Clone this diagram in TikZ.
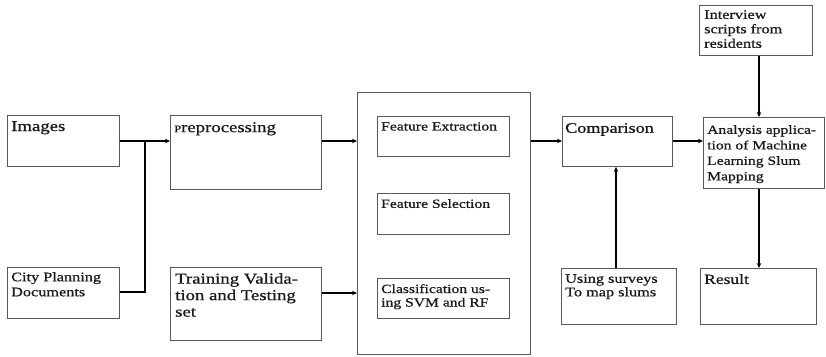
\documentclass[tikz,border=0pt]{standalone}
\usepackage{fontspec}
\setmainfont[FakeStretch=1.25,FakeBold=0.8]{Liberation Serif}
\usetikzlibrary{arrows.meta,calc}
\begin{document}
\begin{tikzpicture}[x=1pt,y=-1pt,
  box/.style={draw=black!65,line width=0.9pt,anchor=north west,inner sep=0pt},
  lbl/.style={anchor=north west,inner sep=0pt,align=left,text=black!90},
  conn/.style={line width=1.5pt,-{Stealth[length=5pt,width=4.5pt]}},
  plain/.style={line width=1.5pt}]
\useasboundingbox (0,0) rectangle (826,356);

% boxes: position = top-left corner, size in pt
\node[box,minimum width=112,minimum height=51] (img)  at (7,115)   {};
\node[box,minimum width=112,minimum height=51] (city) at (7,267)   {};
\node[box,minimum width=151,minimum height=74] (pre)  at (170,115) {};
\node[box,minimum width=151,minimum height=73] (trn)  at (170,267) {};
\node[box,minimum width=173,minimum height=262] (big) at (357,92)  {};
\node[box,minimum width=132,minimum height=40] (fe)   at (377,116) {};
\node[box,minimum width=132,minimum height=41] (fs)   at (377,193) {};
\node[box,minimum width=132,minimum height=40] (cl)   at (377,278) {};
\node[box,minimum width=110,minimum height=50] (cmp)  at (562,116) {};
\node[box,minimum width=115,minimum height=56] (srv)  at (561,268) {};
\node[box,minimum width=113,minimum height=50] (intv) at (699,5)   {};
\node[box,minimum width=121,minimum height=71] (ana)  at (703,117) {};
\node[box,minimum width=116,minimum height=56] (res)  at (700,268) {};

% labels, set top-left inside each box
\node[lbl,font=\fontsize{15}{16.5}\selectfont] (img-t)  at ([xshift=4pt,yshift=-6pt]img.north west) {Images};
\node[lbl,font=\fontsize{13}{15}\selectfont] (city-t) at ([xshift=4pt,yshift=-5pt]city.north west) {City Planning\\Documents};
\node[lbl,font=\fontsize{15}{16.5}\selectfont] (pre-t)  at ([xshift=4pt,yshift=-7pt]pre.north west) {{\fontsize{10}{10}\selectfont P}reprocessing};
\node[lbl,font=\fontsize{15}{16.5}\selectfont] (trn-t)  at ([xshift=5pt,yshift=-6pt]trn.north west) {Training Valida-\\tion and Testing\\set};
\node[lbl,font=\fontsize{12.5}{13}\selectfont] (fe-t)   at ([xshift=4pt,yshift=-6pt]fe.north west) {Feature Extraction};
\node[lbl,font=\fontsize{12.5}{13}\selectfont] (fs-t)   at ([xshift=4pt,yshift=-6pt]fs.north west) {Feature Selection};
\node[lbl,font=\fontsize{12.5}{13.5}\selectfont] (cl-t) at ([xshift=4pt,yshift=-6pt]cl.north west) {Classification us-\\ing SVM and RF};
\node[lbl,font=\fontsize{14.5}{16.5}\selectfont] (cmp-t)  at ([xshift=3pt,yshift=-7pt]cmp.north west) {Comparison};
\node[lbl,font=\fontsize{13}{13.5}\selectfont] (srv-t)  at ([xshift=4pt,yshift=-6pt]srv.north west) {Using surveys\\To map slums};
\node[lbl,font=\fontsize{13}{14.5}\selectfont] (intv-t) at ([xshift=5pt,yshift=-5pt]intv.north west) {Interview\\scripts from\\residents};
\node[lbl,font=\fontsize{12.5}{15.5}\selectfont] (ana-t)  at ([xshift=4pt,yshift=-8pt]ana.north west) {Analysis applica-\\tion of Machine\\Learning Slum\\Mapping};
\node[lbl,font=\fontsize{14}{15}\selectfont] (res-t)  at ([xshift=4pt,yshift=-6pt]res.north west) {Result};

% junction where the documents line meets the images line
\coordinate (j) at (145,141);

% connectors
\draw[conn] (img.east |- 0,141) -- (pre.west |- 0,141);
\draw[plain] (city.east |- 0,292) -| (j);
\draw[conn] (pre.east |- 0,141) -- (big.west |- 0,141);
\draw[conn] (trn.east |- 0,293) -- (big.west |- 0,293);
\draw[conn] (big.east |- 0,141) -- (cmp.west |- 0,141);
\draw[conn] (cmp.east |- 0,141) -- (ana.west |- 0,141);
\draw[conn] (759,0 |- intv.south) -- (759,0 |- ana.north);
\draw[conn] (759,0 |- ana.south) -- (759,0 |- res.north);
\draw[conn] (616,0 |- srv.north) -- (616,0 |- cmp.south);
\end{tikzpicture}
\end{document}
